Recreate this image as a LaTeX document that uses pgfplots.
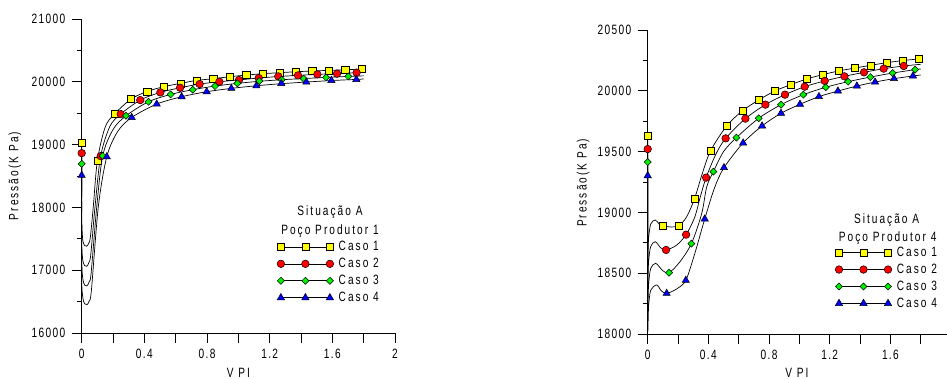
\documentclass[border=0pt]{standalone}
\usepackage{fontspec}
\setmainfont{Liberation Sans}[FakeStretch=0.75, LetterSpace=10]
\newfontfamily\spaced{Liberation Sans}[FakeStretch=0.75, LetterSpace=15]
\usepackage{pgfplots}
\pgfplotsset{compat=1.18}
\definecolor{cy}{RGB}{255,255,0}
\definecolor{cr}{RGB}{255,0,0}
\definecolor{cg}{RGB}{0,240,0}
\definecolor{cb}{RGB}{0,0,255}
\newcommand{\fs}{\fontsize{13.5}{15}\selectfont}
\pgfplotsset{
  base/.style={
    scale only axis, clip=false,
    axis x line=bottom, axis y line=left,
    axis line style={-, black, line width=0.6pt},
    tick align=outside,
    major tick length=10pt, minor tick length=5pt,
    every tick/.style={black, line width=0.6pt},
    tick label style={font=\fs},
    /pgf/number format/assume math mode=true,
    /pgf/number format/1000 sep={},
    scaled ticks=false,
    xticklabel style={yshift=-3pt},
    yticklabel style={xshift=-3pt},
    every axis x label/.style={at={(rel axis cs:0.5,0)}, yshift=-40pt, anchor=center, font=\spaced\fs},
    legend style={draw=none, fill=none, inner sep=0pt, row sep=4pt, nodes={inner sep=1pt}, font=\spaced\fs,
      /tikz/every odd column/.append style={column sep=4pt}},
    legend cell align=left,
    legend image code/.code={\draw[mark repeat=1] plot coordinates {(0pt,0pt) (24.5pt,0pt) (49pt,0pt)};},
  },
  cur/.style={black, line width=0.7pt, smooth, no marks, forget plot},
  sqm/.style={mark=square*, mark size=3.6pt, mark options={fill=cy, draw=black, line width=0.5pt}},
  cim/.style={mark=*, mark size=3.8pt, mark options={fill=cr, draw=black, line width=0.5pt}},
  dim/.style={mark=square*, mark size=2.5pt, mark options={rotate=45, fill=cg, draw=black, line width=0.5pt}},
  trm/.style={mark=triangle*, mark size=4.2pt, mark options={fill=cb, draw=black, line width=0.5pt}},
  sq/.style={only marks, sqm, forget plot},
  ci/.style={only marks, cim, forget plot},
  di/.style={only marks, dim, forget plot},
  tr/.style={only marks, trm, forget plot},
  leg/.style={black, line width=0.6pt},
}
\begin{document}
\begin{tikzpicture}
\useasboundingbox (-81.7pt,-46pt) rectangle (865.3pt,333pt);
% ---------------- Left chart ----------------
\begin{axis}[base,
  at={(0pt,0pt)}, anchor=south west,
  width=313.3pt, height=314pt,
  xmin=0, xmax=2, ymin=16000, ymax=21000,
  xtick={0,0.2,0.4,0.6,0.8,1.0,1.2,1.4,1.6,1.8,2},
  xticklabels={0,,0.4,,0.8,,1.2,,1.6,,2},
  ytick={16000,17000,18000,19000,20000,21000},
  minor ytick={16500,17500,18500,19500,20500},
  xlabel={V PI},
  every axis y label/.style={at={(rel axis cs:0,0.5)}, xshift=-66.7pt, rotate=90, anchor=center, font=\spaced\fs},
  ylabel={Pressão(K Pa)},
  legend style={at={(axis cs:1.246,17477)}, anchor=north west},
]
\addlegendimage{leg, sqm}
\addlegendentry{Caso 1}
\addlegendimage{leg, cim}
\addlegendentry{Caso 2}
\addlegendimage{leg, dim}
\addlegendentry{Caso 3}
\addlegendimage{leg, trm}
\addlegendentry{Caso 4}
% curves
\addplot[cur] coordinates {(0,19030)(0,17900)(0.006,17500)(0.018,17395)(0.032,17381)(0.045,17430)(0.055,17520)(0.074,18008)(0.1,18742)(0.15,19280)(0.209,19486)(0.315,19725)(0.419,19847)(0.523,19921)(0.63,19975)(0.734,20022)(0.84,20049)(0.945,20081)(1.051,20107)(1.157,20129)(1.262,20145)(1.366,20160)(1.472,20172)(1.577,20182)(1.683,20192)(1.787,20203)(1.8,20205)};
\addplot[cur] coordinates {(0,18864)(0,17500)(0.006,17180)(0.018,17075)(0.032,17062)(0.046,17120)(0.058,17250)(0.085,18008)(0.121,18816)(0.18,19290)(0.249,19486)(0.374,19709)(0.502,19831)(0.628,19905)(0.753,19964)(0.879,20001)(1.004,20030)(1.13,20060)(1.255,20084)(1.381,20102)(1.504,20118)(1.63,20132)(1.755,20145)(1.8,20150)};
\addplot[cur] coordinates {(0,18694)(0,17200)(0.007,16870)(0.019,16762)(0.033,16749)(0.047,16810)(0.06,16950)(0.096,18008)(0.134,18821)(0.2,19240)(0.283,19459)(0.426,19682)(0.568,19799)(0.709,19874)(0.851,19932)(0.994,19975)(1.134,20008)(1.277,20033)(1.417,20052)(1.56,20070)(1.702,20086)(1.8,20095)};
\addplot[cur] coordinates {(0,18510)(0,16900)(0.007,16570)(0.019,16465)(0.034,16452)(0.048,16510)(0.062,16680)(0.106,18008)(0.16,18806)(0.23,19210)(0.319,19432)(0.479,19645)(0.638,19762)(0.798,19842)(0.955,19895)(1.115,19937)(1.274,19970)(1.434,19996)(1.594,20020)(1.753,20038)(1.8,20045)};
% markers
\addplot[sq] coordinates {(0,19030)(0.1,18742)(0.209,19486)(0.315,19725)(0.419,19847)(0.523,19921)(0.63,19975)(0.734,20022)(0.84,20049)(0.945,20081)(1.051,20107)(1.157,20129)(1.262,20145)(1.366,20160)(1.472,20176)(1.577,20182)(1.683,20192)(1.787,20203)};
\addplot[ci] coordinates {(0,18864)(0.121,18816)(0.249,19486)(0.374,19709)(0.502,19831)(0.628,19905)(0.753,19964)(0.879,20001)(1.004,20028)(1.13,20060)(1.255,20086)(1.381,20102)(1.504,20118)(1.63,20129)(1.755,20145)};
\addplot[di] coordinates {(0,18694)(0.134,18821)(0.283,19459)(0.426,19682)(0.568,19799)(0.709,19874)(0.851,19932)(0.994,19975)(1.134,20012)(1.277,20033)(1.417,20049)(1.56,20070)(1.702,20086)};
\addplot[tr] coordinates {(0,18510)(0.16,18806)(0.319,19432)(0.479,19645)(0.638,19762)(0.798,19842)(0.955,19895)(1.115,19937)(1.274,19974)(1.434,19996)(1.594,20022)(1.753,20038)};
\node[font=\spaced\fs] at (axis cs:1.585,17923) {Situação A};
\node[font=\spaced\fs] at (axis cs:1.585,17620) {Poço Produtor 1};
\end{axis}
% ---------------- Right chart ----------------
\begin{axis}[base,
  at={(566pt,-1pt)}, anchor=south west,
  width=298.8pt, height=304pt,
  xmin=0, xmax=1.97, ymin=18000, ymax=20500,
  xtick={0,0.2,0.4,0.6,0.8,1.0,1.2,1.4,1.6,1.8},
  xticklabels={0,,0.4,,0.8,,1.2,,1.6,},
  ytick={18000,18500,19000,19500,20000,20500},
  minor ytick={18250,18750,19250,19750,20250},
  xlabel={V PI},
  every axis x label/.style={at={(axis cs:0.984,18000)}, yshift=-39pt, anchor=center, font=\spaced\fs},
  every axis y label/.style={at={(rel axis cs:0,0.497)}, xshift=-64.7pt, rotate=90, anchor=center, font=\spaced\fs},
  ylabel={Pressão(K Pa)},
  legend style={at={(axis cs:1.235,18724)}, anchor=north west},
]
\addlegendimage{leg, sqm}
\addlegendentry{Caso 1}
\addlegendimage{leg, cim}
\addlegendentry{Caso 2}
\addlegendimage{leg, dim}
\addlegendentry{Caso 3}
\addlegendimage{leg, trm}
\addlegendentry{Caso 4}
% curves
\addplot[cur] coordinates {(0,19628)(0,18664)(0.006,18790)(0.02,18905)(0.05,18938)(0.075,18905)(0.099,18891)(0.15,18880)(0.204,18891)(0.255,18960)(0.308,19110)(0.36,19320)(0.415,19508)(0.521,19711)(0.626,19837)(0.732,19924)(0.837,19998)(0.943,20050)(1.048,20097)(1.154,20133)(1.259,20163)(1.365,20187)(1.468,20209)(1.574,20231)(1.679,20248)(1.785,20262)(1.8,20265)};
\addplot[cur] coordinates {(0,19521)(0,18460)(0.006,18600)(0.02,18720)(0.05,18759)(0.085,18710)(0.121,18691)(0.19,18730)(0.253,18817)(0.31,18960)(0.345,19120)(0.385,19286)(0.45,19480)(0.514,19609)(0.644,19771)(0.776,19886)(0.905,19968)(1.035,20034)(1.167,20081)(1.297,20119)(1.426,20152)(1.556,20182)(1.688,20204)(1.8,20218)};
\addplot[cur] coordinates {(0,19414)(0,18260)(0.006,18410)(0.02,18540)(0.053,18581)(0.1,18520)(0.141,18504)(0.21,18590)(0.288,18743)(0.356,18990)(0.389,19210)(0.433,19335)(0.5,19500)(0.585,19615)(0.732,19774)(0.879,19886)(1.026,19968)(1.174,20029)(1.321,20075)(1.468,20113)(1.615,20146)(1.763,20174)(1.8,20180)};
\addplot[cur] coordinates {(0,19302)(0,18060)(0.006,18230)(0.02,18360)(0.059,18403)(0.09,18355)(0.125,18334)(0.19,18370)(0.251,18441)(0.31,18660)(0.376,18946)(0.44,19200)(0.503,19368)(0.629,19571)(0.754,19711)(0.879,19815)(1.004,19889)(1.129,19952)(1.254,19998)(1.379,20039)(1.499,20072)(1.624,20100)(1.749,20122)(1.8,20130)};
% markers
\addplot[sq] coordinates {(0,19628)(0.099,18891)(0.204,18891)(0.308,19110)(0.415,19508)(0.521,19711)(0.626,19837)(0.732,19924)(0.837,19998)(0.943,20050)(1.048,20097)(1.154,20133)(1.259,20163)(1.365,20187)(1.468,20209)(1.574,20231)(1.679,20248)(1.785,20262)};
\addplot[ci] coordinates {(0,19521)(0.121,18691)(0.253,18817)(0.385,19286)(0.514,19609)(0.644,19771)(0.776,19886)(0.905,19968)(1.035,20034)(1.167,20081)(1.297,20119)(1.426,20152)(1.556,20182)(1.688,20204)};
\addplot[di] coordinates {(0,19414)(0.141,18504)(0.288,18743)(0.433,19335)(0.585,19615)(0.732,19774)(0.879,19886)(1.026,19968)(1.174,20029)(1.321,20075)(1.468,20113)(1.615,20146)(1.763,20174)};
\addplot[tr] coordinates {(0,19302)(0.125,18334)(0.251,18441)(0.376,18946)(0.503,19368)(0.629,19571)(0.754,19711)(0.879,19815)(1.004,19889)(1.129,19952)(1.254,19998)(1.379,20039)(1.499,20072)(1.624,20100)(1.749,20122)};
\node[font=\spaced\fs] at (axis cs:1.575,18937) {Situação A};
\node[font=\spaced\fs] at (axis cs:1.582,18789) {Poço Produtor 4};
\end{axis}
\end{tikzpicture}
\end{document}
